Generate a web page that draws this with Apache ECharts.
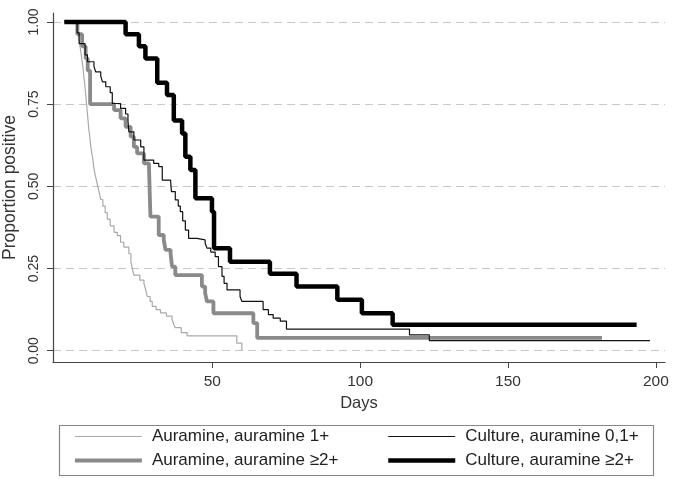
<!DOCTYPE html>
<html><head><meta charset="utf-8">
<script src="https://cdn.jsdelivr.net/npm/echarts@6/dist/echarts.min.js"></script>
<style>html,body{margin:0;padding:0;background:#fff}#c{width:675px;height:479px}</style>
</head><body><div id="c"></div>
<script>
const seriesNames = ['Auramine, auramine 1+', 'Auramine, auramine ≥2+', 'Culture, auramine 0,1+', 'Culture, auramine ≥2+'];
const xTicks = [50, 100, 150, 200];
const yTicks = [0, 0.25, 0.5, 0.75, 1];

const aur1Days = [0,4.2,4.6,5.0,5.4,5.7,6.0,6.3,6.6,6.9,7.1,7.3,7.5,7.7,7.9,8.1,8.3,8.6,8.8,9.1,9.5,9.9,10.3,10.8,11.3,11.8,12.3,13.0,13.8,14.5,15.5,16.8,17.9,19.0,20.1,21.8,22.5,23.0,23.5,25.5,26.9,27.5,28.0,29.0,29.7,31.0,32.5,34.5,36.4,37.0,37.5,39.5,41.5,58.3,60.0];
const aur1Vals = [1,0.98,0.96,0.94,0.92,0.90,0.88,0.86,0.83,0.81,0.79,0.77,0.75,0.73,0.71,0.69,0.67,0.65,0.63,0.61,0.59,0.56,0.54,0.52,0.50,0.48,0.46,0.44,0.42,0.40,0.38,0.36,0.35,0.33,0.315,0.295,0.27,0.25,0.23,0.215,0.205,0.185,0.165,0.15,0.135,0.125,0.115,0.105,0.095,0.08,0.07,0.055,0.045,0.023,0];

const aur2Days = [0,4.4,6.0,7.2,7.9,8.7,16.8,19.0,20.7,22.4,23.5,24.6,26.9,28.6,29.1,31.9,33.6,34.2,35.9,36.4,37.5,46.5,47.6,48.2,50.4,63.9,65.2,181.8];
const aur2Vals = [1,0.963,0.926,0.889,0.852,0.75,0.732,0.707,0.681,0.651,0.62,0.60,0.57,0.56,0.408,0.352,0.337,0.307,0.297,0.256,0.23,0.195,0.175,0.15,0.114,0.084,0.039,0.039];

const cul01Days = [0,4.3,5.0,7.0,7.8,10.0,10.6,12.3,12.9,14.0,15.5,16.2,19.0,20.7,21.5,21.8,23.5,25.8,26.9,30.2,31.9,33.1,35.9,36.2,37.5,38.5,39.2,40.0,40.9,42.0,44.8,47.6,48.2,49.5,51.0,52.1,53.3,54.0,55.0,59.4,60.0,67.2,69.0,70.6,73.0,75.1,116.7,123.4,198.0];
const cul01Vals = [1,0.967,0.934,0.90,0.879,0.865,0.848,0.835,0.818,0.803,0.785,0.752,0.737,0.72,0.70,0.666,0.641,0.62,0.58,0.57,0.56,0.519,0.514,0.484,0.459,0.44,0.423,0.395,0.367,0.342,0.337,0.327,0.312,0.30,0.286,0.256,0.226,0.205,0.185,0.165,0.15,0.125,0.11,0.099,0.09,0.066,0.048,0.031,0.031];

const cul2Days = [0,20.7,25.2,27.4,31.4,34.7,37.0,39.8,40.9,42.6,44.3,49.9,50.6,56.0,69.5,78.5,92.3,100.6,111.0,193.5];
const cul2Vals = [1,0.963,0.926,0.889,0.815,0.778,0.70,0.661,0.59,0.55,0.464,0.423,0.312,0.271,0.234,0.195,0.155,0.114,0.079,0.079];

const zip = (a, b) => a.map((d, i) => [d, b[i]]);
const font = '"Liberation Sans", Arial, Helvetica, sans-serif';

const styles = [
  {color: '#a9a9a9', width: 1.2},
  {color: '#8a8a8a', width: 3.8},
  {color: '#111111', width: 1.2},
  {color: '#000000', width: 4.5}
];
const dataSets = [zip(aur1Days, aur1Vals), zip(aur2Days, aur2Vals), zip(cul01Days, cul01Vals), zip(cul2Days, cul2Vals)];

const legendItem = i => ({name: seriesNames[i], lineStyle: {width: styles[i].width, color: styles[i].color}, itemStyle: {opacity: 0}});
const legendBase = {orient: 'vertical', top: 428, padding: 0, itemWidth: 67, itemHeight: 14, itemGap: 7,
  itemStyle: {opacity: 0}, lineStyle: {width: 'inherit'},
  textStyle: {fontFamily: font, fontSize: 17, color: '#222', padding: [0, 0, 0, 5]}, selectedMode: false};

const chart = echarts.init(document.getElementById('c'), null, {renderer: 'canvas'});
chart.setOption({
  backgroundColor: '#fff',
  animation: false,
  grid: {left: 53, right: 10, top: 13, bottom: 117, containLabel: false, outerBoundsMode: 'none'},
  xAxis: {
    type: 'value', min: -3.85, max: 203.1,
    name: 'Days', nameLocation: 'middle', nameGap: 27,
    nameTextStyle: {fontFamily: font, fontSize: 16.5, color: '#333'},
    axisLine: {show: true, onZero: false, lineStyle: {color: '#444', width: 1.2}},
    axisTick: {show: true, length: 6, customValues: xTicks, lineStyle: {color: '#444'}},
    axisLabel: {customValues: xTicks, margin: 12, fontFamily: font, fontSize: 15.5, color: '#333'},
    splitLine: {show: false}
  },
  yAxis: {
    type: 'value', min: -0.0343, max: 1.0273,
    name: 'Proportion positive', nameLocation: 'middle', nameGap: 26,
    nameTextStyle: {fontFamily: font, fontSize: 17.5, color: '#333'},
    axisLine: {show: true, onZero: false, lineStyle: {color: '#444', width: 1.2}},
    axisTick: {show: true, length: 6, customValues: yTicks, lineStyle: {color: '#444'}},
    axisLabel: {customValues: yTicks, rotate: 90, margin: 12, fontFamily: font, fontSize: 14, color: '#333',
      formatter: v => v.toFixed(2)},
    splitLine: {show: true, lineStyle: {color: '#c8c8c8', width: 1.2, type: [8, 5]}}
  },
  legend: [
    Object.assign({}, legendBase, {left: 73, data: [legendItem(0), legendItem(1)]}),
    Object.assign({}, legendBase, {left: 386, data: [legendItem(2), legendItem(3)]})
  ],
  graphic: [{type: 'rect', left: 57, top: 423, shape: {width: 594, height: 50}, style: {fill: 'none', stroke: '#888', lineWidth: 1.2}, silent: true}],
  series: seriesNames.map((n, i) => ({
    name: n, type: 'line', step: 'end', symbol: 'none', data: dataSets[i],
    lineStyle: {color: styles[i].color, width: styles[i].width},
    itemStyle: {color: styles[i].color},
    z: 2 + i
  }))
});
</script></body></html>
